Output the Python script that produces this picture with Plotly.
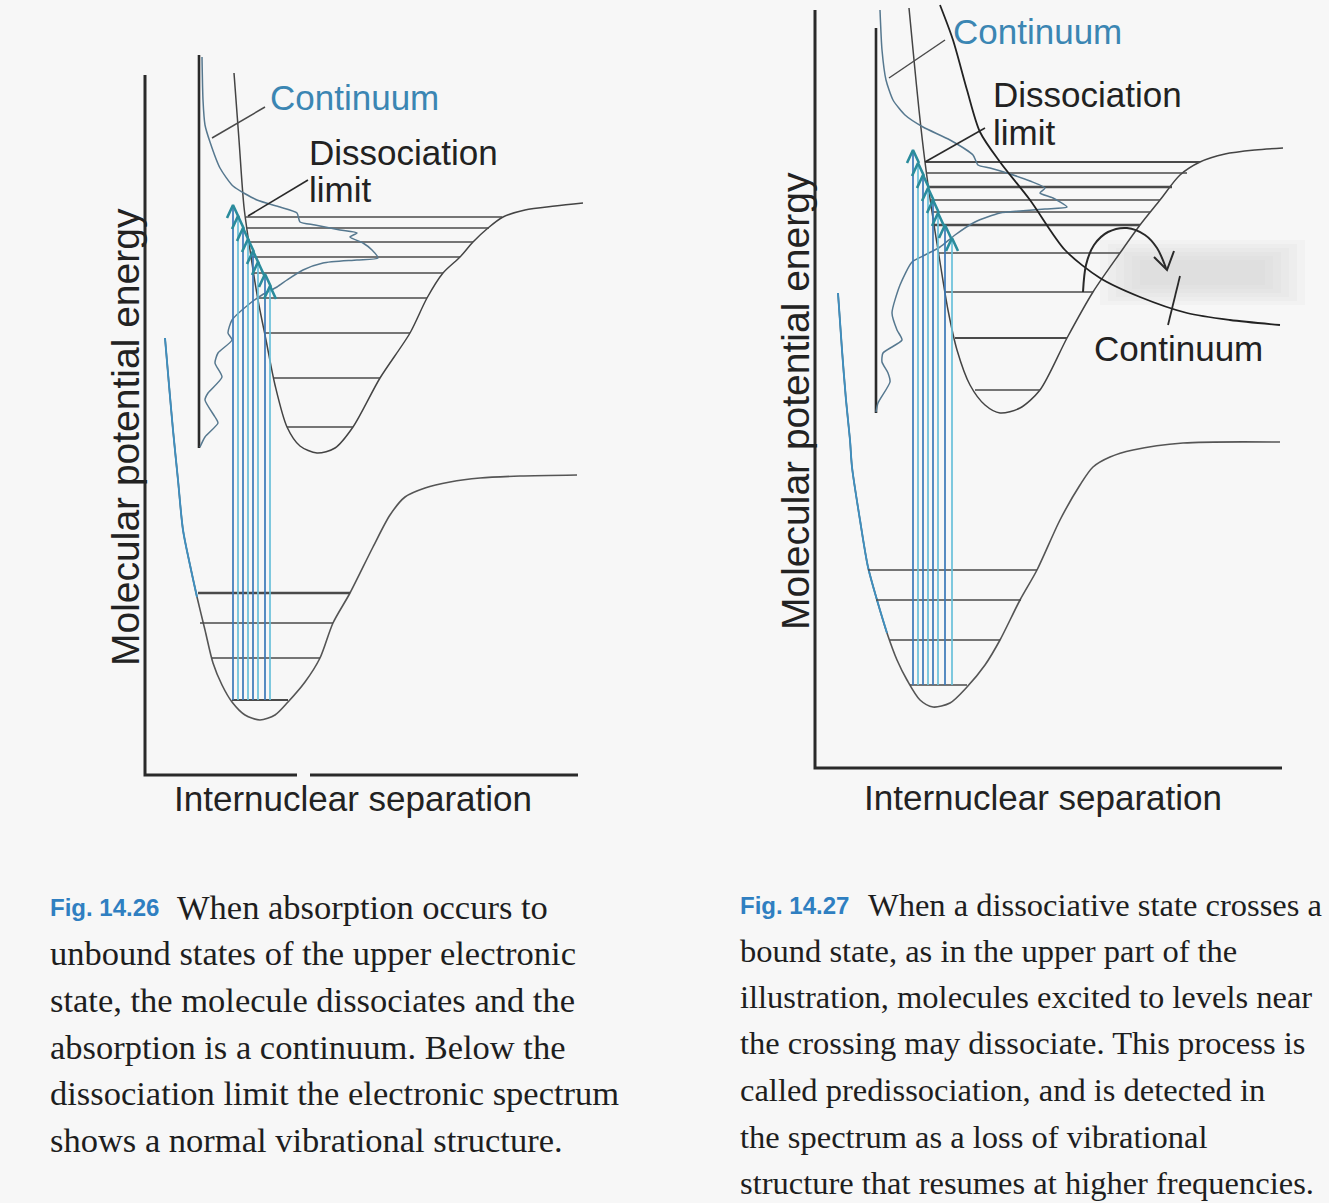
import plotly.graph_objects as go

# ---------------- data (pixel coordinates of the page) ----------------
# Left figure (Fig. 14.26)
L_axis_x = [145, 145, 297, None, 310, 578]
L_axis_y = [75, 775, 775, None, 775, 775]

L_ground_x = [165, 169, 173, 178, 183, 190, 197, 205, 213, 222, 232, 245, 260, 275, 288, 305, 320, 333, 350, 373, 390, 405, 425, 450, 480, 520, 577]
L_ground_y = [338, 385, 430, 480, 530, 565, 597, 630, 663, 685, 702, 715, 720, 715, 702, 682, 658, 623, 593, 547, 515, 497, 488, 482, 478, 476, 475]
L_ground_blue_n = 7  # first points of the inner wall drawn in blue

L_ground_lev_y = [593, 623, 658, 700]
L_ground_lev_x0 = [198, 200, 212, 232]
L_ground_lev_x1 = [350, 333, 320, 288]
L_ground_lev_w = [2.6, 1.5, 1.5, 1.8]

L_upper_x = [234, 239, 244, 250, 258, 266, 275, 287, 300, 317, 335, 353, 380, 410, 427, 443, 460, 473, 488, 503, 525, 555, 583]
L_upper_y = [73, 140, 207, 250, 300, 340, 385, 427, 446, 453, 448, 427, 378, 333, 298, 273, 257, 242, 228, 217, 210, 206, 203]

L_upper_lev_y = [217, 228, 242, 257, 273, 298, 333, 378, 427]
L_upper_lev_x0 = [246, 247, 249, 251, 254, 258, 265, 274, 287]
L_upper_lev_x1 = [502, 489, 473, 460, 443, 427, 410, 380, 353]

L_spec_base_x = [199, 199]
L_spec_base_y = [55, 448]
L_spec_x = [202, 203, 205, 210, 220, 233, 257, 280, 297, 300, 315, 340, 357, 350, 363, 372, 378, 357, 323, 303, 287, 277, 262, 248, 232, 228, 232, 218, 215, 222, 208, 205, 215, 218, 205, 200]
L_spec_y = [57, 100, 125, 142, 168, 186, 200, 207, 213, 222, 225, 230, 233, 237, 243, 250, 258, 260, 263, 270, 280, 287, 295, 305, 320, 333, 340, 353, 363, 377, 393, 400, 417, 423, 437, 447]

L_trans_x = [233, 238, 243, 248, 253, 258, 265, 270]
L_trans_tip = [205, 216, 228, 239, 251, 262, 274, 286]
L_trans_base = 700

L_cont_leader_x = [212, 265]
L_cont_leader_y = [138, 107]
L_diss_leader_x = [248, 303, 308]
L_diss_leader_y = [216, 183, 180]

# Right figure (Fig. 14.27)
R_axis_x = [815, 815, 1282]
R_axis_y = [10, 768, 768]

R_ground_x = [838, 842, 846, 850, 852, 860, 868, 877, 887, 897, 907, 920, 933, 950, 967, 985, 1000, 1020, 1037, 1060, 1080, 1093, 1110, 1133, 1183, 1280]
R_ground_y = [293, 350, 400, 440, 467, 520, 567, 600, 633, 660, 680, 700, 707, 703, 687, 665, 640, 600, 570, 520, 485, 467, 457, 450, 443, 442]
R_ground_blue_n = 9

R_ground_lev_y = [570, 600, 640, 685]
R_ground_lev_x0 = [868, 876, 890, 910]
R_ground_lev_x1 = [1037, 1021, 1000, 967]

R_upper_x = [909, 914, 919, 925, 932, 940, 948, 957, 970, 985, 1000, 1020, 1040, 1067, 1093, 1120, 1140, 1160, 1180, 1200, 1225, 1255, 1283]
R_upper_y = [8, 60, 110, 162, 212, 262, 310, 350, 385, 405, 413, 408, 390, 338, 292, 253, 225, 200, 175, 162, 154, 150, 148]

R_upper_lev_y = [162, 173, 187, 200, 212, 225, 253, 292, 338, 390]
R_upper_lev_x0 = [925, 926, 928, 930, 932, 934, 939, 944, 955, 975]
R_upper_lev_x1 = [1200, 1187, 1172, 1160, 1150, 1140, 1120, 1093, 1067, 1040]
R_upper_lev_w = [1.8, 1.5, 2.4, 1.5, 1.5, 2.4, 1.5, 1.5, 2.2, 1.5]

R_diss_x = [940, 953, 967, 980, 1000, 1030, 1065, 1100, 1140, 1187, 1230, 1280]
R_diss_y = [5, 40, 90, 132, 162, 200, 250, 278, 297, 313, 320, 325]

R_spec_base_x = [876, 876]
R_spec_base_y = [28, 413]
R_spec_x = [880, 882, 886, 893, 905, 923, 950, 973, 978, 990, 1007, 1030, 1045, 1040, 1053, 1067, 1045, 1020, 1000, 975, 955, 940, 925, 912, 900, 892, 897, 902, 883, 882, 888, 890, 878, 876]
R_spec_y = [10, 50, 80, 100, 115, 127, 140, 155, 165, 168, 173, 181, 188, 193, 198, 207, 209, 211, 213, 222, 235, 247, 255, 262, 285, 313, 330, 340, 353, 362, 373, 382, 403, 412]

R_trans_x = [913, 918, 923, 928, 933, 938, 945, 952]
R_trans_tip = [150, 163, 175, 188, 200, 213, 225, 238]
R_trans_base = 685

R_cont_leader_x = [889, 945]
R_cont_leader_y = [78, 40]
R_diss_leader_x = [925, 985]
R_diss_leader_y = [162, 128]
R_cont2_tick_x = [1180, 1168]
R_cont2_tick_y = [276, 325]
R_arc_x = [1083, 1086, 1094, 1108, 1127, 1145, 1157, 1166]
R_arc_y = [292, 265, 245, 232, 228, 235, 248, 268]
R_arrowhead_x = [1154, 1167, 1174]
R_arrowhead_y = [257, 270, 251]
R_shade_x = [1100, 1305]
R_shade_y = [240, 305]

# texts
labels = [
    # text, x, y, anchor, size, color, angle
    ("Continuum", 268, 97, "left", 35, "#3b86b3", 0),
    ("Dissociation", 307, 152, "left", 35, "#222222", 0),
    ("limit", 307, 189, "left", 35, "#222222", 0),
    ("Molecular potential energy", 125, 437, "center", 39, "#222222", -90),
    ("Internuclear separation", 353, 798, "center", 35, "#222222", 0),
    ("Continuum", 951, 31, "left", 35, "#3b86b3", 0),
    ("Dissociation", 991, 94, "left", 35, "#222222", 0),
    ("limit", 991, 132, "left", 35, "#222222", 0),
    ("Continuum", 1092, 348, "left", 35, "#222222", 0),
    ("Molecular potential energy", 795, 401, "center", 39, "#222222", -90),
    ("Internuclear separation", 1043, 797, "center", 35, "#222222", 0),
]

cap_left_tag = "Fig. 14.26"
cap_left = ["When absorption occurs to",
            "unbound states of the upper electronic",
            "state, the molecule dissociates and the",
            "absorption is a continuum. Below the",
            "dissociation limit the electronic spectrum",
            "shows a normal vibrational structure."]
cap_left_y = [907, 953, 1000, 1047, 1093, 1140]

cap_right_tag = "Fig. 14.27"
cap_right = ["When a dissociative state crosses a",
             "bound state, as in the upper part of the",
             "illustration, molecules excited to levels near",
             "the crossing may dissociate. This process is",
             "called predissociation, and is detected in",
             "the spectrum as a loss of vibrational",
             "structure that resumes at higher frequencies."]
cap_right_y = [905, 951, 997, 1043, 1090, 1137, 1183]

# ---------------- drawing ----------------
DARK = "#2a2a2a"
LINE = "#4a4a4a"
BLUE = "#3a78b8"
CYAN = "#68c0da"
TEAL = "#2a8c9c"
SPEC = "#56788f"
BG = "#f7f7f7"

fig = go.Figure()

def add(x, y, color, width, shape="linear", smooth=1.0):
    fig.add_trace(go.Scatter(x=x, y=y, mode="lines",
                             line=dict(color=color, width=width, shape=shape,
                                       smoothing=smooth if shape == "spline" else None),
                             hoverinfo="skip", showlegend=False))

def add_levels(x0s, x1s, ys, widths, color):
    for a, b, c, w in zip(x0s, x1s, ys, widths):
        add([a, b], [c, c], color, w)

def add_transitions(xs, tips, base):
    for i, (x, t) in enumerate(zip(xs, tips)):
        add([x, x], [base, t], BLUE if i % 2 == 0 else CYAN, 1.7)
    cx, cy = [], []
    for x, t in zip(xs, tips):
        cx += [x - 6, x, x + 6, None]
        cy += [t + 13, t, t + 13, None]
    add(cx, cy, TEAL, 2.6)

# soft gray blurred patch (right figure)
for k in range(6):
    fig.add_shape(type="rect", xref="x", yref="y",
                  x0=R_shade_x[0] + 8 * k, x1=R_shade_x[1] - 8 * k,
                  y0=R_shade_y[0] + 4 * k, y1=R_shade_y[1] - 4 * k,
                  fillcolor="#cfcfcf", opacity=0.13, line=dict(width=0), layer="below")

for side in ("L", "R"):
    g = globals()
    add(g[side + "_axis_x"], g[side + "_axis_y"], DARK, 3)
    gx, gy, nb = g[side + "_ground_x"], g[side + "_ground_y"], g[side + "_ground_blue_n"]
    add(gx, gy, "#555555", 1.6, "spline", 0.8)
    add(gx[:nb], gy[:nb], "#3f8fbf", 1.9, "spline", 0.8)
    widths = L_ground_lev_w if side == "L" else [1.6] * len(R_ground_lev_y)
    add_levels(g[side + "_ground_lev_x0"], g[side + "_ground_lev_x1"], g[side + "_ground_lev_y"], widths, LINE)
    add(g[side + "_upper_x"], g[side + "_upper_y"], "#444444", 1.5, "spline", 0.8)
    uw = [1.5] * len(L_upper_lev_y) if side == "L" else R_upper_lev_w
    add_levels(g[side + "_upper_lev_x0"], g[side + "_upper_lev_x1"], g[side + "_upper_lev_y"], uw, LINE)
    add(g[side + "_spec_base_x"], g[side + "_spec_base_y"], DARK, 2.6)
    add(g[side + "_spec_x"], g[side + "_spec_y"], SPEC, 1.5, "spline", 0.6)
    add_transitions(g[side + "_trans_x"], g[side + "_trans_tip"], g[side + "_trans_base"])
    add(g[side + "_cont_leader_x"], g[side + "_cont_leader_y"], LINE, 1.5)
    add(g[side + "_diss_leader_x"], g[side + "_diss_leader_y"], DARK, 1.6)

add(R_diss_x, R_diss_y, "#222222", 1.8, "spline", 0.8)
add(R_cont2_tick_x, R_cont2_tick_y, DARK, 1.8)
add(R_arc_x, R_arc_y, DARK, 2, "spline", 0.9)
add(R_arrowhead_x, R_arrowhead_y, DARK, 2)

for text, x, y, anchor, size, color, ang in labels:
    fig.add_annotation(x=x, y=y, xref="x", yref="y", text=text, showarrow=False,
                       xanchor=anchor, yanchor="middle", textangle=ang,
                       font=dict(family="Liberation Sans, Arial, sans-serif", size=size, color=color))

def caption(tag, lines, ys, x_tag, x_first, x_rest, size):
    fig.add_annotation(x=x_tag, y=ys[0], xref="x", yref="y", text="<b>" + tag + "</b>",
                       showarrow=False, xanchor="left", yanchor="middle",
                       font=dict(family="Liberation Sans Narrow, Arial Narrow, Liberation Sans, sans-serif",
                                 size=24, color="#2f7fc1"))
    for i, (t, y) in enumerate(zip(lines, ys)):
        fig.add_annotation(x=x_first if i == 0 else x_rest, y=y, xref="x", yref="y", text=t,
                           showarrow=False, xanchor="left", yanchor="middle",
                           font=dict(family="Liberation Serif, Times New Roman, serif", size=size, color="#1e1e1e"))

caption(cap_left_tag, cap_left, cap_left_y, 48, 175, 48, 34.5)
caption(cap_right_tag, cap_right, cap_right_y, 738, 866, 738, 32.5)

fig.update_layout(
    width=1329, height=1203,
    margin=dict(l=0, r=0, t=0, b=0, pad=0),
    paper_bgcolor=BG, plot_bgcolor=BG,
    xaxis=dict(range=[0, 1329], visible=False, fixedrange=True),
    yaxis=dict(range=[1203, 0], visible=False, fixedrange=True),
    showlegend=False,
)

fig.write_html("out.html", config={"displayModeBar": False},
               post_script="document.body.style.margin='0';document.body.style.overflow='hidden';document.body.style.background='#f7f7f7';")
